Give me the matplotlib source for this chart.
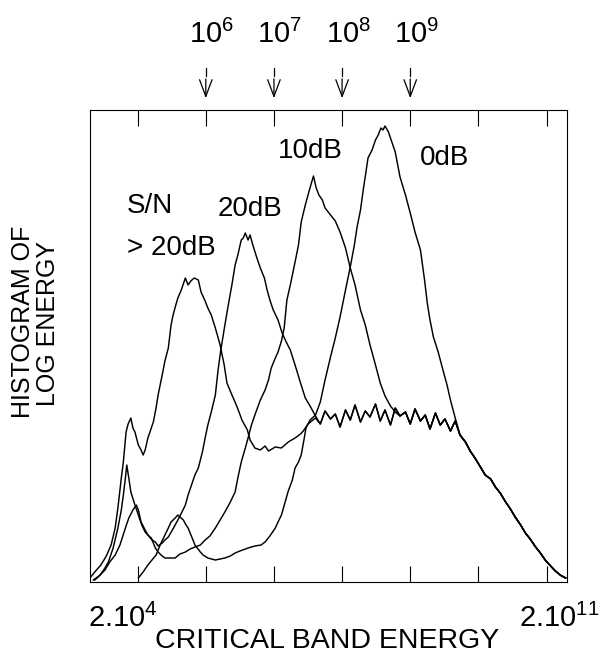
import numpy as np
import matplotlib.pyplot as plt
from matplotlib.ticker import FixedLocator, NullLocator
from matplotlib.transforms import blended_transform_factory

plt.rcParams['font.family'] = ['Liberation Sans', 'DejaVu Sans']
plt.rcParams['mathtext.fontset'] = 'custom'
plt.rcParams['mathtext.rm'] = 'Liberation Sans'

# log10 of critical band energy, histogram height (arbitrary units)
snr_clean_logE = [4.30, 4.37, 4.46, 4.54, 4.61, 4.67, 4.71, 4.76, 4.79, 4.83,
                  4.86, 4.90, 4.93, 4.96, 5.01, 5.05, 5.08, 5.11, 5.15, 5.20,
                  5.23, 5.27, 5.30, 5.36, 5.40, 5.45, 5.49, 5.52, 5.56, 5.59,
                  5.64, 5.70, 5.74, 5.78, 5.83, 5.89, 5.93, 5.99, 6.03, 6.08,
                  6.14, 6.21, 6.27, 6.31, 6.39, 6.46, 6.53, 6.61, 6.65, 6.72,
                  6.80, 6.87, 6.92, 7.02, 7.11, 7.21, 7.31, 7.39, 7.43, 7.50,
                  7.61]
snr_clean_hist = [4, 10, 17, 26, 37, 54, 74, 104, 120, 150,
                  158, 164, 154, 150, 137, 132, 127, 132, 144, 154,
                  160, 174, 187, 207, 221, 234, 257, 267, 277, 284,
                  292, 304, 297, 301, 304, 302, 290, 281, 274, 267,
                  254, 237, 217, 199, 186, 175, 162, 152, 142, 134,
                  132, 136, 131, 135, 134, 140, 144, 148, 151, 158,
                  164]

snr_20_logE = [4.37, 4.42, 4.52, 4.59, 4.67, 4.74, 4.82, 4.87, 4.93, 4.98,
               5.01, 5.05, 5.11, 5.15, 5.21, 5.26, 5.30, 5.36, 5.40, 5.45,
               5.51, 5.55, 5.59, 5.65, 5.70, 5.74, 5.80, 5.84, 5.89, 5.95,
               5.99, 6.03, 6.08, 6.14, 6.18, 6.22, 6.28, 6.33, 6.39, 6.43,
               6.47, 6.52, 6.55, 6.58, 6.62, 6.65, 6.69, 6.75, 6.80, 6.86,
               6.90, 6.94, 6.99, 7.06, 7.12, 7.18, 7.24, 7.31, 7.39, 7.46,
               7.53, 7.61]
snr_20_hist = [2, 5, 12, 20, 27, 37, 54, 64, 72, 77,
               72, 60, 52, 47, 42, 40, 36, 39, 42, 45,
               52, 57, 62, 70, 77, 87, 99, 107, 114, 130,
               144, 157, 170, 187, 212, 232, 257, 277, 300, 317,
               327, 342, 344, 349, 342, 347, 337, 324, 314, 304,
               292, 282, 272, 262, 249, 240, 232, 217, 199, 184,
               176, 166]

snr_10_logE = [4.35, 4.45, 4.52, 4.57, 4.64, 4.71, 4.76, 4.79, 4.82, 4.84,
               4.87, 4.90, 4.96, 5.01, 5.06, 5.11, 5.15, 5.20, 5.26, 5.30,
               5.36, 5.40, 5.48, 5.55, 5.62, 5.70, 5.77, 5.84, 5.92, 5.99,
               6.06, 6.14, 6.21, 6.28, 6.36, 6.43, 6.47, 6.52, 6.58, 6.62,
               6.67, 6.72, 6.80, 6.87, 6.92, 6.96, 7.02, 7.06, 7.11, 7.15,
               7.19, 7.24, 7.31, 7.36, 7.40, 7.46, 7.52, 7.58, 7.62, 7.66,
               7.71, 7.75, 7.83, 7.90, 7.97, 8.05, 8.12, 8.19, 8.27, 8.34,
               8.41, 8.49, 8.56, 8.63, 8.71, 8.78]
snr_10_hist = [2, 7, 14, 20, 34, 54, 72, 87, 104, 117,
               104, 90, 77, 67, 57, 50, 47, 44, 34, 30,
               26, 24, 24, 24, 28, 30, 33, 35, 37, 42,
               46, 54, 62, 70, 80, 90, 104, 120, 134, 144,
               157, 167, 182, 192, 202, 214, 224, 230, 241, 254,
               282, 297, 320, 337, 360, 377, 392, 406, 394, 387,
               382, 374, 367, 361, 350, 334, 314, 297, 272, 257,
               237, 217, 199, 186, 176, 170]

snr_0_logE = [5.01, 5.08, 5.15, 5.21, 5.27, 5.33, 5.40, 5.45, 5.49, 5.55,
              5.59, 5.62, 5.67, 5.71, 5.74, 5.80, 5.84, 5.92, 5.96, 6.03,
              6.14, 6.21, 6.28, 6.36, 6.43, 6.50, 6.62, 6.72, 6.81, 6.87,
              6.94, 7.02, 7.06, 7.11, 7.16, 7.21, 7.27, 7.31, 7.36, 7.40,
              7.44, 7.47, 7.53, 7.61, 7.68, 7.75, 7.83, 7.90, 7.97, 8.05,
              8.12, 8.18, 8.22, 8.27, 8.31, 8.35, 8.38, 8.44, 8.49, 8.53,
              8.57, 8.60, 8.63, 8.68, 8.72, 8.78, 8.85, 8.93, 9.00, 9.07,
              9.15, 9.21, 9.25, 9.29, 9.34, 9.41, 9.48, 9.54, 9.59, 9.66,
              9.71]
snr_0_hist = [4, 10, 17, 22, 27, 37, 47, 54, 60, 64,
              67, 65, 62, 57, 54, 44, 37, 30, 27, 24,
              22, 23, 24, 26, 29, 31, 34, 36, 37, 40,
              46, 54, 60, 67, 79, 91, 102, 114, 120, 127,
              142, 154, 162, 167, 180, 202, 225, 244, 265, 292,
              315, 337, 355, 372, 392, 410, 424, 432, 442, 447,
              454, 452, 456, 450, 442, 430, 405, 387, 369, 350,
              332, 302, 279, 262, 245, 230, 212, 197, 182, 164,
              152]

# speech part shared by all conditions (plateau and high energy fall-off)
speech_logE = [7.68, 7.75, 7.83, 7.90, 7.97, 8.05, 8.12, 8.19, 8.27, 8.34,
               8.41, 8.49, 8.56, 8.63, 8.71, 8.78, 8.85, 8.93, 9.00, 9.07,
               9.15, 9.22, 9.29, 9.37, 9.44, 9.51, 9.59, 9.66, 9.73, 9.81,
               9.88, 9.95, 10.03, 10.10, 10.18, 10.25, 10.32, 10.40, 10.47, 10.54,
               10.62, 10.69, 10.76, 10.84, 10.91, 10.98, 11.06, 11.13, 11.20, 11.28]
speech_hist = [158, 171, 163, 168, 155, 172, 162, 177, 160, 171,
               165, 178, 161, 172, 157, 174, 166, 170, 158, 173,
               161, 167, 153, 169, 157, 163, 151, 161, 147, 140,
               131, 124, 115, 107, 103, 95, 89, 80, 73, 65,
               57, 49, 43, 35, 29, 22, 16, 11, 7, 4]

curve_labels = ['S/N', '> 20dB', '20dB', '10dB', '0dB']
curve_label_logE = [5.18, 5.49, 6.65, 7.53, 9.51]
curve_label_hist = [376, 334, 373, 431, 424]
marked_decades = [6, 7, 8, 9]


def full_curve(logE, hist):
    logE = np.array(logE)
    tail = np.array(speech_logE) > logE[-1]
    x = np.concatenate([logE, np.array(speech_logE)[tail]])
    y = np.concatenate([np.array(hist), np.array(speech_hist)[tail]])
    return 10 ** x, y


fig = plt.figure(figsize=(6.01, 6.61), dpi=100)
ax = fig.add_axes([0.1498, 0.1195, 0.7937, 0.7141])

for logE, hist in [(snr_clean_logE, snr_clean_hist), (snr_20_logE, snr_20_hist),
                   (snr_10_logE, snr_10_hist), (snr_0_logE, snr_0_hist)]:
    x, y = full_curve(logE, hist)
    ax.plot(x, y, color='black', lw=1.05)

ax.set_xscale('log')
ax.set_xlim(2e4, 2e11)
ax.set_ylim(0, 472)
ax.xaxis.set_major_locator(FixedLocator([10.0 ** k for k in range(5, 12)]))
ax.xaxis.set_minor_locator(NullLocator())
ax.tick_params(axis='x', direction='in', length=11.5, width=0.8,
               top=True, bottom=True, labelbottom=False, labeltop=False)
ax.tick_params(axis='y', left=False, labelleft=False)
for sp in ax.spines.values():
    sp.set_linewidth(0.8)

for lab, lx, ly in zip(curve_labels, curve_label_logE, curve_label_hist):
    ax.text(10 ** lx, ly, lab, fontsize=20, ha='center', va='center')

# markers above the frame
trans = blended_transform_factory(ax.transData, ax.transAxes)
for k in marked_decades:
    xv = 10.0 ** k
    ax.plot([xv, xv], [1.073, 1.089], transform=trans, color='black',
            lw=0.9, clip_on=False)
    ax.annotate('', xy=(xv, 1.025), xycoords=trans, xytext=(xv, 1.066),
                textcoords=trans,
                arrowprops=dict(arrowstyle='->,head_length=1.2,head_width=0.45',
                                mutation_scale=10, lw=0.9, color='black',
                                shrinkA=0, shrinkB=0))
    ax.annotate(r'$\mathregular{10^{%d}}$' % k, xy=(xv, 1.142), xycoords=trans,
                xytext=(6, 0), textcoords='offset pixels',
                ha='center', va='baseline', fontsize=21)

fig.text(88 / 601, 34 / 661, r'$\mathregular{2.10^{4}}$', fontsize=21,
         ha='left', va='baseline')
fig.text(600 / 601, 34 / 661, r'$\mathregular{2.10^{11}}$', fontsize=21,
         ha='right', va='baseline')
fig.text(0.544, 0.0197, 'CRITICAL BAND ENERGY', fontsize=20.5,
         ha='center', va='baseline')
fig.text(0.038, 0.513, 'HISTOGRAM OF', fontsize=18, rotation=90,
         ha='center', va='center')
fig.text(0.080, 0.511, 'LOG ENERGY', fontsize=18, rotation=90,
         ha='center', va='center')

fig.savefig('out.png', dpi=100)
